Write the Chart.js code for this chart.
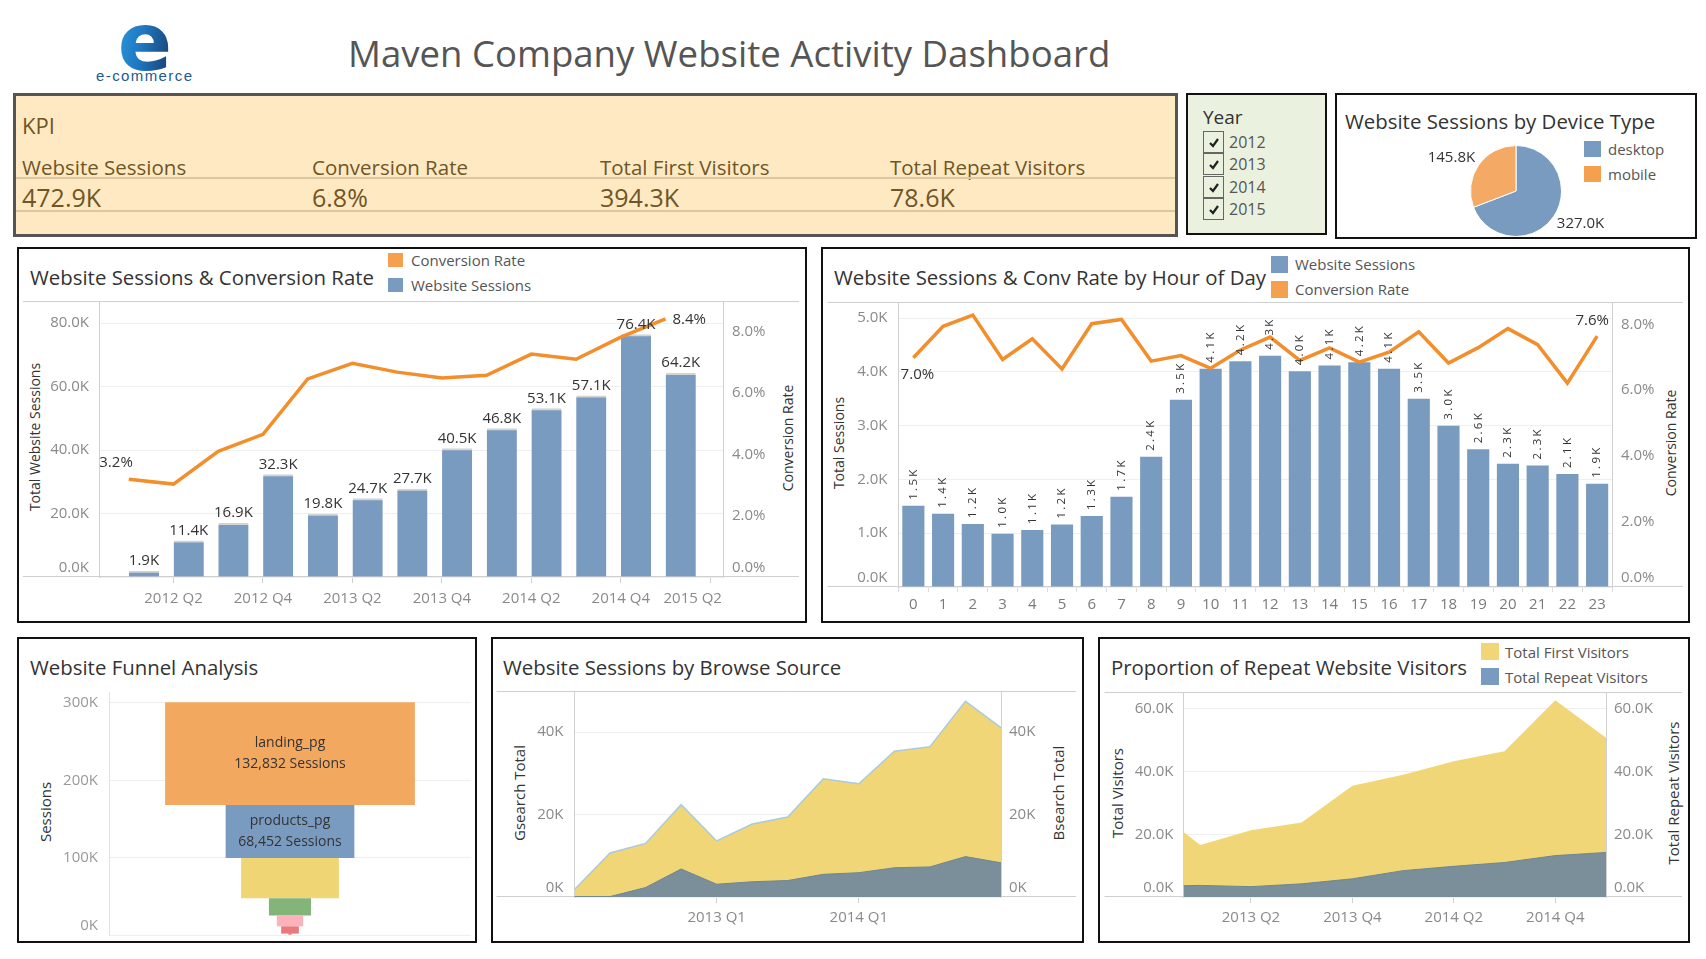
<!DOCTYPE html>
<html><head><meta charset="utf-8">
<script src="https://cdn.jsdelivr.net/npm/chart.js@4.4.1/dist/chart.umd.min.js"></script>
<style>
html,body{margin:0;padding:0;background:#fff;}
body{width:1706px;height:959px;position:relative;overflow:hidden;font-family:'Open Sans',sans-serif;}
.t{position:absolute;white-space:nowrap;line-height:1;transform:translateY(-50%);}
.vt{position:absolute;white-space:nowrap;line-height:1;transform:translate(-50%,-50%) rotate(-90deg);}
.box{position:absolute;box-sizing:border-box;border:2px solid #111;background:#fff;}
.sq{position:absolute;}
canvas{position:absolute;}
</style></head><body>
<svg style="position:absolute;left:90px;top:18px" width="110" height="72">
 <defs><linearGradient id="lg" x1="0" y1="0" x2="1" y2="0.3"><stop offset="0" stop-color="#2A9BE0"/><stop offset="0.55" stop-color="#1F77C0"/><stop offset="1" stop-color="#1B4A80"/></linearGradient></defs>
 <text x="55" y="52" text-anchor="middle" font-family="DejaVu Sans" font-weight="bold" font-size="80" fill="url(#lg)">e</text>
 <text x="6" y="63" font-family="Liberation Sans" font-size="15" textLength="96" fill="#24598F">e-commerce</text>
</svg>
<script>
// ---------------- DATA ----------------
const kpiLabels = ['Website Sessions','Conversion Rate','Total First Visitors','Total Repeat Visitors'];
const kpiValues = ['472.9K','6.8%','394.3K','78.6K'];
const yearOptions = ['2012','2013','2014','2015'];

const quarterLabels = ['2012 Q1','2012 Q2','2012 Q3','2012 Q4','2013 Q1','2013 Q2','2013 Q3','2013 Q4','2014 Q1','2014 Q2','2014 Q3','2014 Q4','2015 Q1','2015 Q2'];
const quarterSessions = [1900,11400,16900,32300,19800,24700,27700,40500,46800,53100,57100,76400,64200];
const quarterConvRate = [3.19,3.03,4.10,4.65,6.46,6.97,6.68,6.49,6.58,7.27,7.10,7.82,8.42];
const quarterTickIdx = [1,3,5,7,9,11,13];
const sessionsTicks = [0,20000,40000,60000,80000];
const convTicks = [0,2,4,6,8];

const hourLabels = ['0','1','2','3','4','5','6','7','8','9','10','11','12','13','14','15','16','17','18','19','20','21','22','23'];
const hourSessions = [1510,1360,1170,990,1060,1160,1320,1680,2420,3480,4060,4200,4300,4010,4120,4180,4060,3500,3000,2560,2290,2260,2100,1920];
const hourConvRate = [6.98,7.94,8.28,6.93,7.56,6.64,8.02,8.15,6.88,7.05,6.66,7.22,7.61,6.90,7.28,6.85,7.15,7.77,6.82,7.29,7.87,7.38,6.21,7.64];
const hourSessionTicks = [0,1000,2000,3000,4000,5000];

const deviceLabels = ['desktop','mobile'];
const deviceSessions = [327000,145800];

const funnelStages = ['landing_pg','products_pg','mrfuzzy_pg','cart_pg','shipping_pg','billing_pg','thankyou_pg'];
const funnelSessions = [132832,68452,52000,22400,14000,9400,1800];
const funnelTicks = [0,100000,200000,300000];

const gsearchTotal = [1800,10700,13000,22400,13600,17700,19400,28700,27500,35400,36500,47500,41100];
const bsearchTotal = [100,100,2300,6800,3100,3700,4000,5500,5900,7100,7300,9800,8300];
const searchTicks = [0,20000,40000];
const searchTickIdx = [4,8];

const visitorQuarterPos = [3.67,4,5,6,7,8,9,10,11,12];
const firstVisitors = [20700,16600,21300,23800,35500,39000,43300,46500,62800,50800];
const repeatVisitors = [3600,3700,3300,4200,5800,8400,9800,11000,13200,14200];
const visitorTicks = [0,20000,40000,60000];
const visitorTickIdx = [5,7,9,11];

// ---------------- STYLE ----------------
const C_BLUE='#7A9BC0', C_ORANGE='#F28E2B', C_ORANGE_L='#F5A04E', C_YELLOW='#F0D676', C_SLATE='#7A8F99';
const TICK_COLOR='#8a8a8a';
const funnelColors=['#F3A860','#7A9BC0','#EFD574','#83B57A','#FCB2BA','#E8797D','#C9494F'];
const TITLE_SIZE=20.4;

Chart.defaults.font.family="'Open Sans', sans-serif";
Chart.defaults.animation=false;

const body=document.body;
function T(x,y,txt,size,color,extra){const d=document.createElement('div');d.className='t';d.style.left=x+'px';d.style.top=y+'px';d.style.fontSize=size+'px';d.style.color=color;if(extra)Object.assign(d.style,extra);d.textContent=txt;body.appendChild(d);return d;}
function VT(x,y,txt,size,color){const d=document.createElement('div');d.className='vt';d.style.left=x+'px';d.style.top=y+'px';d.style.fontSize=size+'px';d.style.color=color;d.textContent=txt;body.appendChild(d);return d;}
function BOX(l,t,w,h,extra){const d=document.createElement('div');d.className='box';Object.assign(d.style,{left:l+'px',top:t+'px',width:w+'px',height:h+'px'},extra||{});body.appendChild(d);return d;}
function SQ(l,t,w,h,c){const d=document.createElement('div');d.className='sq';Object.assign(d.style,{left:l+'px',top:t+'px',width:w+'px',height:h+'px',background:c});body.appendChild(d);return d;}
function CV(l,t,w,h){const c=document.createElement('canvas');c.width=w;c.height=h;c.style.left=l+'px';c.style.top=t+'px';c.style.width=w+'px';c.style.height=h+'px';body.appendChild(c);return c;}
const k1=v=>(v/1000).toFixed(1)+'K';
const setTicks=arr=>s=>{s.ticks=arr.map(v=>({value:v}));};
const fitV=w=>s=>{s.width=w;s.paddingTop=0;s.paddingBottom=0;};
const fitH=h=>s=>{s.height=h;s.paddingLeft=0;s.paddingRight=0;};
// Tableau lifts the bottom (zero) tick label above the axis line
const lift=fmt=>v=>v===0?[fmt(v),'']:fmt(v);

// ---------------- HEADER ----------------
T(348,53,'Maven Company Website Activity Dashboard',36.6,'#555');

// KPI box
BOX(13,93,1165,144,{background:'#FEE9C3',border:'3px solid #555'});
T(22,125,'KPI',22,'#6E5626');
const kpiX=[22,312,600,890];
kpiLabels.forEach((s,i)=>T(kpiX[i],167,s,20.5,'#6E5626'));
kpiValues.forEach((s,i)=>T(kpiX[i],197,s,25,'#6E5626'));
SQ(16,177,1159,2,'#DCC7A0');SQ(16,210,1159,2,'#DCC7A0');

// Year filter
BOX(1186,93,141,142,{background:'#EAF2DF'});
T(1203,117,'Year',19,'#333');
yearOptions.forEach((y,i)=>{
  const top=131+22.3*i;
  const b=document.createElement('div');
  Object.assign(b.style,{position:'absolute',left:'1203px',top:top+'px',width:'21px',height:'22px',boxSizing:'border-box',border:'1px solid #666',background:'#EAF2DF'});
  b.innerHTML='<svg width="20" height="20" style="position:absolute;left:0;top:0"><path d="M6 11 L9 14 L14 7" stroke="#222" stroke-width="2.2" fill="none"/></svg>';
  body.appendChild(b);
  T(1229,top+11,y,16,'#555');
});

// Pie box
BOX(1335,93,362,146);
T(1345,121,'Website Sessions by Device Type',TITLE_SIZE,'#333');
SQ(1584,141,17,16,C_BLUE);SQ(1584,166,17,16,C_ORANGE_L);
T(1608,149,'desktop',15,'#555');T(1608,174,'mobile',15,'#555');

// Panels
BOX(17,247,790,376);
T(30,277,'Website Sessions & Conversion Rate',TITLE_SIZE,'#333');
SQ(388,253,15,14,C_ORANGE_L);SQ(388,278,15,14,C_BLUE);
T(411,260,'Conversion Rate',15,'#555');T(411,285,'Website Sessions',15,'#555');
VT(35,437,'Total Website Sessions',14,'#333');VT(788,438,'Conversion Rate',14,'#333');

BOX(821,247,869,376);
T(834,277,'Website Sessions & Conv Rate by Hour of Day',TITLE_SIZE,'#333');
SQ(1271,256,17,17,C_BLUE);SQ(1271,281,17,17,C_ORANGE_L);
T(1295,264,'Website Sessions',15,'#555');T(1295,289,'Conversion Rate',15,'#555');
VT(839,443,'Total Sessions',14,'#333');VT(1671,443,'Conversion Rate',14,'#333');

BOX(17,637,460,306);
T(30,667,'Website Funnel Analysis',TITLE_SIZE,'#333');
VT(45,812,'Sessions',15,'#333');

BOX(491,637,593,306);
T(503,667,'Website Sessions by Browse Source',TITLE_SIZE,'#333');
VT(519,793,'Gsearch Total',15,'#333');VT(1058,793,'Bsearch Total',15,'#333');

BOX(1098,637,592,306);
T(1111,667,'Proportion of Repeat Website Visitors',TITLE_SIZE,'#333');
SQ(1481,643,18,17,C_YELLOW);SQ(1481,668,18,17,C_BLUE);
T(1505,652,'Total First Visitors',15,'#555');T(1505,677,'Total Repeat Visitors',15,'#555');
VT(1117,793,'Total Visitors',15,'#333');VT(1673,793,'Total Repeat Visitors',15,'#333');

// ---------------- PLUGINS ----------------
function frameLines(x0,x1,top,bottom,color){
  return {id:'frame'+Math.random().toString(36).slice(2),
    beforeDatasetsDraw(chart){const {ctx,chartArea}=chart;ctx.save();ctx.strokeStyle=color||'#cfcfcf';ctx.lineWidth=1;ctx.beginPath();
      if(top){const y=Math.round(chartArea.top)+0.5;ctx.moveTo(x0,y);ctx.lineTo(x1,y);}
      if(bottom){const y=Math.round(chartArea.bottom)-0.5;ctx.moveTo(x0,y);ctx.lineTo(x1,y);}
      ctx.stroke();ctx.restore();}};
}
function barLabels(dsIndex,values,fmt,cfg){
  return {id:'bl'+Math.random().toString(36).slice(2),
    afterDatasetsDraw(chart){const ctx=chart.ctx;const meta=chart.getDatasetMeta(dsIndex);ctx.save();ctx.font=cfg.font;ctx.fillStyle=cfg.color;
      if(cfg.letterSpacing) ctx.letterSpacing=cfg.letterSpacing;
      meta.data.forEach((el,i)=>{const txt=fmt(values[i]);
        if(cfg.rotate){ctx.save();ctx.translate(el.x,el.y-cfg.gap);ctx.rotate(-Math.PI/2);ctx.textAlign='left';ctx.textBaseline='middle';ctx.fillText(txt,0,0);ctx.restore();}
        else{ctx.textAlign='center';ctx.textBaseline='alphabetic';ctx.fillText(txt,el.x,el.y-cfg.gap);}
      });ctx.restore();}};
}
function pointLabels(dsIndex,values,fmt,items,font,color){
  return {id:'pl'+Math.random().toString(36).slice(2),
    afterDatasetsDraw(chart){const ctx=chart.ctx;const meta=chart.getDatasetMeta(dsIndex);ctx.save();ctx.font=font;ctx.fillStyle=color;ctx.textBaseline='middle';
      items.forEach(it=>{const idx=it.index<0?values.length+it.index:it.index;const el=meta.data[idx];ctx.textAlign=it.align;ctx.fillText(fmt(values[idx]),el.x+it.dx,el.y+it.dy);});
      ctx.restore();}};
}
const baseOpts={responsive:false,maintainAspectRatio:false,devicePixelRatio:1,animation:false,events:[]};
const tickFont={size:15};

// ---------------- CHART 1: quarterly sessions & conv rate ----------------
new Chart(CV(19,290,785,330),{
  type:'bar',
  data:{datasets:[
    {type:'bar',label:'Website Sessions',data:quarterSessions.map((v,i)=>({x:i,y:v})),xAxisID:'xb',yAxisID:'y',backgroundColor:C_BLUE,borderColor:'#D3D3D3',borderWidth:{top:2,left:0,right:0,bottom:0},borderSkipped:false,barThickness:30,grouped:false,order:2},
    {type:'line',label:'Conversion Rate',data:quarterConvRate.map((v,i)=>({x:i,y:v})),xAxisID:'x',yAxisID:'y1',borderColor:C_ORANGE,borderWidth:3.5,pointRadius:0,tension:0,order:1}
  ]},
  options:Object.assign({},baseOpts,{
    layout:{padding:{top:11,left:0,right:0,bottom:0}},
    plugins:{legend:{display:false},tooltip:{enabled:false}},
    scales:{
      x:{type:'linear',position:'bottom',min:-0.666,max:13.285,offset:false,
        afterBuildTicks:setTicks(quarterTickIdx),
        afterFit:fitH(43),
        ticks:{autoSkip:false,maxRotation:0,padding:7,color:TICK_COLOR,font:tickFont,callback:v=>v===13?quarterLabels[v]+'\u00A0'.repeat(9):quarterLabels[v]},
        grid:{drawOnChartArea:false,drawTicks:true,tickLength:6,color:'#cfcfcf',offset:false},border:{display:false}},
      xb:{type:'linear',display:false,position:'bottom',min:-1.006,max:12.945,offset:false,grid:{offset:false}},
      y:{position:'left',min:0,max:87000,afterFit:fitV(80),afterBuildTicks:setTicks(sessionsTicks),
        ticks:{padding:10,color:TICK_COLOR,font:tickFont,callback:lift(k1)},
        grid:{color:'#EFEFEF',drawTicks:false},border:{display:true,color:'#d0d0d0'}},
      y1:{position:'right',min:0,max:9,afterFit:fitV(81),afterBuildTicks:setTicks(convTicks),
        ticks:{padding:9,color:TICK_COLOR,font:tickFont,callback:lift(v=>v.toFixed(1)+'%')},
        grid:{display:false,drawTicks:false},border:{display:true,color:'#d0d0d0'}}
    }
  }),
  plugins:[frameLines(4,780,true,true,'#cfcfcf'),
    barLabels(0,quarterSessions,k1,{font:"15px 'Open Sans'",color:'#333',gap:6}),
    pointLabels(1,quarterConvRate,v=>v.toFixed(1)+'%',[{index:0,dx:4,dy:-16,align:'right'},{index:-1,dx:7,dy:1,align:'left'}],"15px 'Open Sans'",'#333')]
});

// ---------------- CHART 2: by hour of day ----------------
new Chart(CV(826,291,860,330),{
  type:'bar',
  data:{labels:hourLabels,datasets:[
    {type:'bar',label:'Website Sessions',data:hourSessions,yAxisID:'y',backgroundColor:C_BLUE,categoryPercentage:1,barPercentage:0.745,order:2},
    {type:'line',label:'Conversion Rate',data:hourConvRate,yAxisID:'y1',borderColor:C_ORANGE,borderWidth:3.5,pointRadius:0,tension:0,order:1}
  ]},
  options:Object.assign({},baseOpts,{
    layout:{padding:{top:11,left:0,right:0,bottom:0}},
    plugins:{legend:{display:false},tooltip:{enabled:false}},
    scales:{
      x:{afterFit:fitH(34),
        ticks:{autoSkip:false,maxRotation:0,padding:4,color:'#7a7a7a',font:tickFont},
        grid:{drawOnChartArea:false,drawTicks:true,tickLength:5,color:'#dcdcdc',offset:true},border:{display:false}},
      y:{position:'left',min:0,max:5300,afterFit:fitV(72.5),afterBuildTicks:setTicks(hourSessionTicks),
        ticks:{padding:11,color:TICK_COLOR,font:tickFont,callback:lift(k1)},
        grid:{color:'#EFEFEF',drawTicks:false},border:{display:true,color:'#d0d0d0'}},
      y1:{position:'right',min:0,max:8.68,afterFit:fitV(74),afterBuildTicks:setTicks(convTicks),
        ticks:{padding:9,color:TICK_COLOR,font:tickFont,callback:lift(v=>v.toFixed(1)+'%')},
        grid:{display:false,drawTicks:false},border:{display:true,color:'#d0d0d0'}}
    }
  }),
  plugins:[frameLines(1.5,857,true,true,'#cfcfcf'),
    barLabels(0,hourSessions,k1,{font:"11.5px 'Open Sans'",color:'#333',gap:6,rotate:true,letterSpacing:'2.3px'}),
    pointLabels(1,hourConvRate,v=>v.toFixed(1)+'%',[{index:0,dx:4,dy:17,align:'center'},{index:-1,dx:-5,dy:-15,align:'center'}],"15px 'Open Sans'",'#333')]
});

// ---------------- PIE: device type ----------------
new Chart(CV(1420,142,192,97),{
  type:'pie',
  data:{labels:deviceLabels,datasets:[{data:deviceSessions,backgroundColor:[C_BLUE,'#F4AA64'],borderColor:'#fff',borderWidth:1}]},
  options:Object.assign({},baseOpts,{layout:{padding:{left:50,right:50,top:3,bottom:2}},plugins:{legend:{display:false},tooltip:{enabled:false}}}),
  plugins:[{id:'pieLabels',afterDatasetsDraw(chart){
    const ctx=chart.ctx;const meta=chart.getDatasetMeta(0);ctx.save();ctx.font="15px 'Open Sans'";ctx.fillStyle='#333';ctx.textAlign='center';ctx.textBaseline='middle';
    meta.data.forEach((arc,i)=>{const a=(arc.startAngle+arc.endAngle)/2-0.13;const r=arc.outerRadius+27;ctx.fillText(k1(deviceSessions[i]),arc.x+Math.cos(a)*r,arc.y+Math.sin(a)*r);});
    ctx.restore();}}]
});

// ---------------- FUNNEL ----------------
const funnelDatasets=[];
for(let i=funnelStages.length-1;i>=0;i--){
  funnelDatasets.push({label:funnelStages[i],data:[funnelSessions[i]],backgroundColor:funnelColors[i],categoryPercentage:1,barPercentage:0.69*funnelSessions[i]/funnelSessions[0]});
}
new Chart(CV(22,680,452,258),{
  type:'bar',
  data:{labels:['Sessions'],datasets:funnelDatasets},
  options:Object.assign({},baseOpts,{
    layout:{padding:{top:12,left:0,right:3,bottom:3}},
    plugins:{legend:{display:false},tooltip:{enabled:false}},
    scales:{
      x:{stacked:true,display:false},
      y:{stacked:true,min:0,max:314200,afterFit:fitV(87),afterBuildTicks:setTicks(funnelTicks),
        ticks:{padding:11,color:'#999',font:tickFont,callback:lift(v=>(v/1000)+'K')},
        grid:{color:'#EFEFEF',drawTicks:false},border:{display:true,color:'#e2e2e2'}}
    }
  }),
  plugins:[{id:'funnelLabels',afterDatasetsDraw(chart){
    const ctx=chart.ctx;ctx.save();ctx.font="14px 'Open Sans'";ctx.fillStyle='#333';ctx.textAlign='center';ctx.textBaseline='middle';
    [0,1].forEach(si=>{const dsIdx=funnelStages.length-1-si;const el=chart.getDatasetMeta(dsIdx).data[0];const cy=(el.y+el.base)/2;
      ctx.fillText(funnelStages[si],el.x,cy-10.5);ctx.fillText(funnelSessions[si].toLocaleString('en-US')+' Sessions',el.x,cy+10.5);});
    ctx.restore();}}]
});

// ---------------- BROWSE SOURCE ----------------
new Chart(CV(495,680,583,255),{
  type:'line',
  data:{datasets:[
    {label:'Gsearch Total',data:gsearchTotal.map((v,i)=>({x:i,y:v})),yAxisID:'y',fill:'origin',backgroundColor:C_YELLOW,borderColor:'#A9CBE0',borderWidth:1.5,pointRadius:0,tension:0,order:2},
    {label:'Bsearch Total',data:bsearchTotal.map((v,i)=>({x:i,y:v})),yAxisID:'y1',fill:'origin',backgroundColor:C_SLATE,borderColor:'#6F8690',borderWidth:1,pointRadius:0,tension:0,order:1}
  ]},
  options:Object.assign({},baseOpts,{
    layout:{padding:{top:11,left:0,right:0,bottom:0}},
    plugins:{legend:{display:false},tooltip:{enabled:false}},
    scales:{
      x:{type:'linear',min:0,max:12,offset:false,
        afterBuildTicks:setTicks(searchTickIdx),
        afterFit:fitH(38),
        ticks:{autoSkip:false,maxRotation:0,padding:6,color:TICK_COLOR,font:tickFont,callback:v=>quarterLabels[v]},
        grid:{drawOnChartArea:false,drawTicks:true,tickLength:6,color:'#cfcfcf',offset:false},border:{display:false}},
      y:{position:'left',min:0,max:50000,afterFit:fitV(79.5),afterBuildTicks:setTicks(searchTicks),
        ticks:{padding:11,color:TICK_COLOR,font:tickFont,callback:lift(v=>(v/1000)+'K')},
        grid:{color:'#EFEFEF',drawTicks:false},border:{display:true,color:'#d0d0d0'}},
      y1:{position:'right',min:0,max:50000,afterFit:fitV(77),afterBuildTicks:setTicks(searchTicks),
        ticks:{padding:8,color:TICK_COLOR,font:tickFont,callback:lift(v=>(v/1000)+'K')},
        grid:{display:false,drawTicks:false},border:{display:true,color:'#d0d0d0'}}
    }
  }),
  plugins:[frameLines(1.5,581,true,true,'#cfcfcf')]
});

// ---------------- REPEAT VISITORS ----------------
new Chart(CV(1101,681,586,255),{
  type:'line',
  data:{datasets:[
    {label:'Total First Visitors',data:firstVisitors.map((v,i)=>({x:visitorQuarterPos[i],y:v})),yAxisID:'y',fill:'origin',backgroundColor:C_YELLOW,borderColor:C_YELLOW,borderWidth:0,pointRadius:0,tension:0,order:2},
    {label:'Total Repeat Visitors',data:repeatVisitors.map((v,i)=>({x:visitorQuarterPos[i],y:v})),yAxisID:'y1',fill:'origin',backgroundColor:C_SLATE,borderColor:'#6F8690',borderWidth:1,pointRadius:0,tension:0,order:1}
  ]},
  options:Object.assign({},baseOpts,{
    layout:{padding:{top:11,left:0,right:0,bottom:0}},
    plugins:{legend:{display:false},tooltip:{enabled:false}},
    scales:{
      x:{type:'linear',min:3.67,max:12,offset:false,
        afterBuildTicks:setTicks(visitorTickIdx),
        afterFit:fitH(39),
        ticks:{autoSkip:false,maxRotation:0,padding:6,color:TICK_COLOR,font:tickFont,callback:v=>quarterLabels[v]},
        grid:{drawOnChartArea:false,drawTicks:true,tickLength:6,color:'#cfcfcf',offset:false},border:{display:false}},
      y:{position:'left',min:0,max:65400,afterFit:fitV(82.5),afterBuildTicks:setTicks(visitorTicks),
        ticks:{padding:10,color:TICK_COLOR,font:tickFont,callback:lift(k1)},
        grid:{color:'#EFEFEF',drawTicks:false},border:{display:true,color:'#d0d0d0'}},
      y1:{position:'right',min:0,max:65400,afterFit:fitV(81),afterBuildTicks:setTicks(visitorTicks),
        ticks:{padding:8,color:TICK_COLOR,font:tickFont,callback:lift(k1)},
        grid:{display:false,drawTicks:false},border:{display:true,color:'#d0d0d0'}}
    }
  }),
  plugins:[frameLines(3.5,581,true,true,'#cfcfcf')]
});
</script>
</body></html>
